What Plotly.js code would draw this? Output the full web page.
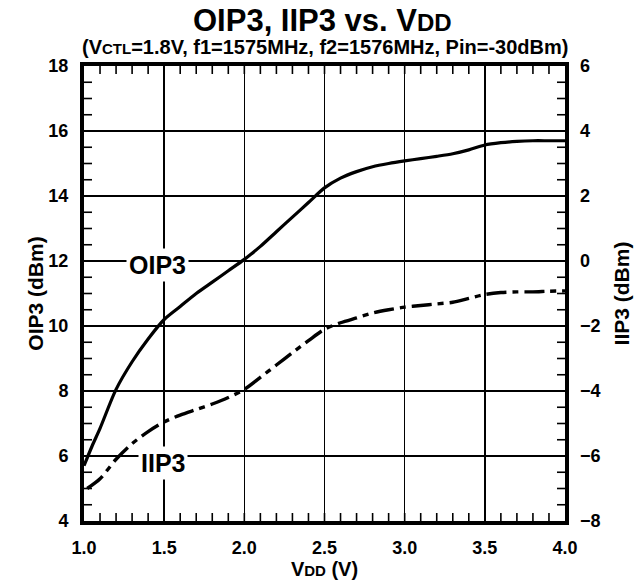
<!DOCTYPE html>
<html>
<head>
<meta charset="utf-8">
<script src="https://cdn.plot.ly/plotly-3.0.1.min.js"></script>
</head>
<body style="margin:0">
<div id="chart"></div>
<script>
// Supply voltage sweep (V)
const vddOip3 = [1.0, 1.05, 1.1, 1.2, 1.3, 1.4, 1.5, 1.6, 1.7, 1.8, 1.9, 2.0, 2.1, 2.2, 2.3, 2.4, 2.5,
                 2.6, 2.7, 2.8, 2.9, 3.0, 3.1, 3.2, 3.3, 3.4, 3.5, 3.6, 3.7, 3.8, 3.9, 4.0];
// Output third-order intercept point (dBm), left axis
const oip3 = [5.7, 6.3, 6.85, 8.05, 8.9, 9.6, 10.2, 10.6, 11.0, 11.35, 11.7, 12.05, 12.45, 12.9, 13.35, 13.8, 14.25,
              14.55, 14.75, 14.9, 15.0, 15.08, 15.15, 15.22, 15.3, 15.42, 15.57, 15.64, 15.68, 15.7, 15.7, 15.7];

const vddIip3 = [1.02, 1.1, 1.2, 1.3, 1.4, 1.5, 1.6, 1.7, 1.8, 1.9, 2.0, 2.1, 2.2, 2.3, 2.4, 2.5,
                 2.6, 2.7, 2.8, 2.9, 3.0, 3.1, 3.2, 3.3, 3.4, 3.5, 3.6, 3.7, 3.8, 3.9, 4.0];
// Input third-order intercept point (dBm), right axis
const iip3 = [-7.0, -6.7, -6.1, -5.62, -5.25, -4.95, -4.74, -4.57, -4.4, -4.2, -3.95, -3.58, -3.2, -2.82, -2.45, -2.1,
              -1.9, -1.75, -1.6, -1.5, -1.42, -1.37, -1.32, -1.27, -1.15, -1.03, -0.97, -0.95, -0.95, -0.93, -0.92];

// Axis ranges and minor tick spacing
const xRange = [1, 4];
const leftRange = [4, 18];
const rightRange = [-8, 6];
const xMinorStep = 0.1;
const yMinorStep = 0.5;

const FONT = 'Liberation Sans, Arial, Helvetica, sans-serif';
const bold = (size) => ({ family: FONT, size: size, color: '#000', weight: 'bold' });

const traces = [
  {
    x: vddOip3, y: oip3, type: 'scatter', mode: 'lines', name: 'OIP3',
    line: { color: '#000', width: 3.2, shape: 'spline', smoothing: 0.8 }
  },
  {
    x: vddIip3, y: iip3, type: 'scatter', mode: 'lines', name: 'IIP3', yaxis: 'y2',
    line: { color: '#000', width: 3.4, shape: 'spline', smoothing: 0.8, dash: '20px,6px,6px,6px' }
  }
];

// Minor ticks on all four frame edges, as short pixel-length segments anchored to the frame
const TICK_PX = 8;
const tickLine = { color: '#000', width: 1.6 };
const minorShapes = [];
const nx = Math.round((xRange[1] - xRange[0]) / xMinorStep);
for (let i = 1; i < nx; i++) {
  const v = xRange[0] + i * xMinorStep;
  [[0, TICK_PX], [1, -TICK_PX]].forEach(([anchor, len]) => {
    minorShapes.push({
      type: 'line', layer: 'above', xref: 'x', yref: 'paper',
      x0: v, x1: v, ysizemode: 'pixel', yanchor: anchor, y0: 0, y1: len, line: tickLine
    });
  });
}
const ny = Math.round((leftRange[1] - leftRange[0]) / yMinorStep);
for (let i = 1; i < ny; i++) {
  const v = leftRange[0] + i * yMinorStep;
  [[0, TICK_PX], [1, -TICK_PX]].forEach(([anchor, len]) => {
    minorShapes.push({
      type: 'line', layer: 'above', xref: 'paper', yref: 'y',
      y0: v, y1: v, xsizemode: 'pixel', xanchor: anchor, x0: 0, x1: len, line: tickLine
    });
  });
}

const axisStyle = {
  showgrid: true, gridcolor: '#000', gridwidth: 1.6,
  showline: true, linecolor: '#000', linewidth: 4,
  ticks: 'inside', ticklen: 6, tickwidth: 1.6, tickcolor: '#000',
  zeroline: false, tickmode: 'linear', tickfont: bold(18)
};

const xaxis = Object.assign({}, axisStyle, {
  range: xRange, tick0: 1, dtick: 0.5, tickformat: '.1f', mirror: 'ticks', ticklabelstandoff: 7,
  title: { text: 'V<span style="font-size:15px">DD</span> (V)', font: bold(20), standoff: 0 }
});

const yaxis = Object.assign({}, axisStyle, {
  range: leftRange, tick0: 4, dtick: 2, mirror: 'ticks', ticklabelstandoff: 8,
  title: { text: 'OIP3 (dBm)', font: bold(21), standoff: 0 }
});

const yaxis2 = {
  overlaying: 'y', side: 'right', range: rightRange, tickmode: 'linear', tick0: -8, dtick: 2,
  showgrid: false, zeroline: false, showline: false, ticks: '',
  tickfont: bold(18), ticklabelstandoff: 14,
  title: { text: 'IIP3 (dBm)', font: bold(21), standoff: 14 }
};

const layout = {
  width: 639, height: 585,
  margin: { l: 84, r: 74, t: 66, b: 64 },
  showlegend: false,
  xaxis: xaxis, yaxis: yaxis, yaxis2: yaxis2,
  shapes: minorShapes,
  annotations: [
    {
      text: 'OIP3, IIP3 vs. V<span style="font-size:24px">DD</span>',
      xref: 'paper', yref: 'paper', x: 0.495, y: 1.1, xanchor: 'center', yanchor: 'middle',
      showarrow: false, font: bold(31)
    },
    {
      text: '(V<span style="font-size:15px">CTL</span>=1.8V, f1=1575MHz, f2=1576MHz, Pin=-30dBm)',
      xref: 'paper', yref: 'paper', x: 0.5, y: 1.042, xanchor: 'center', yanchor: 'middle',
      showarrow: false, font: bold(20)
    },
    {
      text: 'OIP3', xref: 'x', yref: 'y', x: 1.46, y: 11.88, xanchor: 'center', yanchor: 'middle',
      showarrow: false, font: bold(25), bgcolor: '#fff', borderpad: 2
    },
    {
      text: 'IIP3', xref: 'x', yref: 'y', x: 1.49, y: 5.78, xanchor: 'center', yanchor: 'middle',
      showarrow: false, font: bold(25), bgcolor: '#fff', borderpad: 2
    }
  ]
};

Plotly.newPlot('chart', traces, layout, { staticPlot: true, displayModeBar: false });
</script>
</body>
</html>
